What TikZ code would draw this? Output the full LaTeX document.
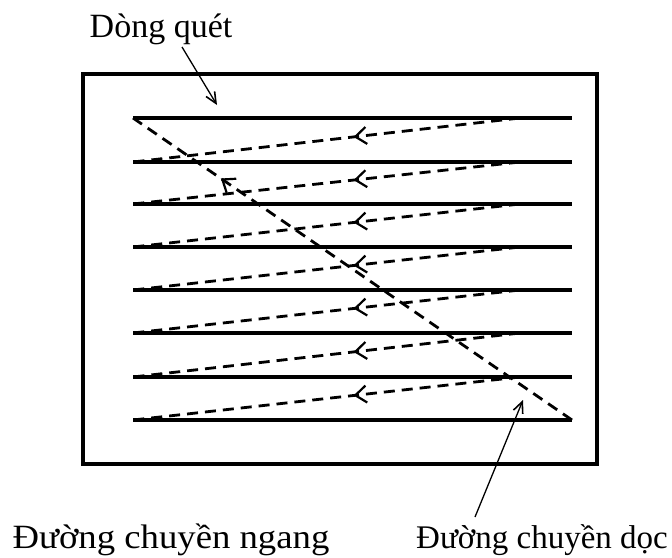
\documentclass[tikz,border=0pt]{standalone}
\usepackage{fontspec}
\setmainfont{Liberation Serif}
\usetikzlibrary{arrows.meta,decorations.markings}
\begin{document}
\begin{tikzpicture}[x=1pt,y=-1pt,
  frame/.style={line width=3.4pt},
  scanline/.style={line width=3.6pt},
  retrace/.style={line width=2.8pt, dash pattern=on 11pt off 7pt,
    postaction={decorate}},
  midtip/.style={decoration={markings,
    mark=at position #1 with {\arrow[line width=2.2pt]{Straight Barb[length=11pt,width=17pt]}}}},
  callout/.style={line width=1.3pt,-{Straight Barb[length=11pt,width=10pt,line width=1.6pt]}},
  label/.style={font=\fontsize{34}{38}\selectfont, inner sep=0pt, anchor=base}]
\useasboundingbox (0,0) rectangle (672,557);

% outer frame
\draw[frame] (83,74) rectangle (597,464);

% horizontal scan lines
\foreach \i/\y in {1/118,2/162,3/204,4/247,5/290,6/333,7/377,8/420}{
  \coordinate (L\i) at (133,\y);
  \coordinate (R\i) at (572,\y);
  \coordinate (S\i) at (520,\y);
  \draw[scanline] (L\i) -- (R\i);
}

% horizontal retrace lines (right to left)
\foreach \i/\j in {1/2,2/3,3/4,4/5,5/6,6/7,7/8}{
  \draw[retrace, midtip=0.43] (S\i) -- (L\j);
}

% vertical retrace line (bottom right to top left)
\draw[retrace, midtip=0.80] (R8) -- (L1);

% labels
\node[label] (dq) at (161,37) {Dòng quét};
\node[label, xscale=1.08] (cn) at (171,548) {Đường chuyền ngang};
\node[label, font=\fontsize{33}{38}\selectfont] (cd) at (542,548) {Đường chuyền dọc};

\coordinate (dqa) at (182,47);
\coordinate (dqb) at (217,105);
\coordinate (cda) at (475,517);
\coordinate (cdb) at (523,400);
\draw[callout] (dqa) -- (dqb);
\draw[callout] (cda) -- (cdb);
\end{tikzpicture}
\end{document}
